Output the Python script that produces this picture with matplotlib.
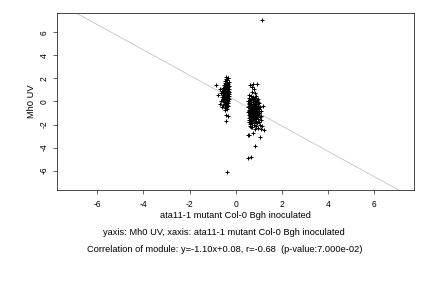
import matplotlib
matplotlib.use("Agg")
import matplotlib.pyplot as plt

plt.rcParams['font.family'] = ['Liberation Sans', 'DejaVu Sans']

# Cluster 1 (left group)
c1x = [-0.40,-0.35,-0.42,-0.32,-0.38,-0.45,-0.30,-0.36,-0.48,-0.40,-0.33,-0.44,-0.52,-0.37,-0.29,-0.85,
       -0.41,-0.47,-0.34,-0.55,-0.39,-0.30,-0.45,-0.70,-0.36,-0.50,-0.42,-0.33,-0.58,-0.38,-0.46,-0.28,
       -0.53,-0.40,-0.35,-0.62,-0.44,-0.31,-0.49,-0.37,-0.75,-0.42,-0.55,-0.34,-0.47,-0.39,-0.29,-0.60,
       -0.44,-0.36,-0.51,-0.41,-0.33,-0.48,-0.38,-0.56,-0.43,-0.31,-0.46,-0.36,-0.53,-0.40,-0.65,-0.34,
       -0.45,-0.38,-0.50,-0.42,-0.32,-0.70,-0.47,-0.37,-0.55,-0.43,-0.33,-0.58,-0.40,-0.48,-0.36,-0.45,
       -0.42,-0.32,-0.40,-0.38,-0.39,-0.43,-0.35,-0.41,-0.37,-0.44,-0.34,-0.46,-0.39,-0.42,-0.36,-0.48]
c1y = [2.15,2.05,1.95,2.00,1.85,1.75,1.70,1.65,1.60,1.55,1.50,1.45,1.40,1.38,1.35,1.40,
       1.30,1.25,1.22,1.20,1.15,1.12,1.08,1.05,1.02,1.00,0.95,0.92,0.90,0.88,0.85,0.82,
       0.80,0.78,0.75,0.72,0.70,0.68,0.65,0.62,0.60,0.58,0.55,0.52,0.50,0.48,0.45,0.42,
       0.40,0.38,0.35,0.32,0.30,0.27,0.25,0.22,0.20,0.18,0.15,0.12,0.10,0.08,0.05,0.03,
       0.00,-0.05,-0.08,-0.12,-0.15,-0.20,-0.22,-0.28,-0.30,-0.35,-0.40,-0.50,-0.52,-0.60,-0.65,-0.72,
       -1.20,-1.30,-1.70,-6.10,1.90,1.48,1.10,0.72,0.57,0.35,0.90,0.15,0.43,1.25,0.62,0.98]

# Cluster 2 (right group)
c2x = [0.62,0.75,0.93,0.70,0.78,0.72,0.82,0.60,0.88,0.67,0.98,0.75,0.58,0.83,0.70,0.92,
       0.63,0.78,0.55,0.87,0.68,0.95,0.74,0.60,0.82,1.02,0.66,0.90,0.56,0.77,0.85,1.20,
       0.62,0.72,0.96,0.58,0.80,0.68,0.88,1.05,0.54,0.75,0.93,0.64,0.83,0.70,1.00,0.57,
       0.79,0.90,0.66,0.74,1.08,0.60,0.86,0.71,0.95,0.55,0.81,0.67,1.02,0.76,0.89,0.61,
       0.72,0.98,0.56,0.84,0.69,1.10,0.78,0.92,0.63,0.74,1.04,0.58,0.87,0.70,0.96,0.66,
       0.80,1.12,0.60,0.76,0.90,0.68,1.00,0.57,0.84,0.72,0.94,0.64,0.79,1.06,0.61,0.88,
       0.73,1.15,0.68,0.97,1.10,1.25,0.82,0.55,0.60,0.75,1.05,0.85,0.55,0.65,1.15,
       0.65,0.73,0.81,0.89,0.69,0.77,0.85,0.93,0.63,0.71,0.79,0.87,0.67,0.75,0.83,0.91,
       0.64,0.72,0.80,0.88,0.70,0.78,0.86,0.94,0.66,0.74,0.82,0.90,0.62,0.76,0.84,0.97]
c2y = [1.45,1.55,1.50,1.30,1.10,0.80,0.70,0.55,0.50,0.45,0.20,0.35,0.30,0.28,0.22,0.15,
       0.12,0.10,0.05,0.02,-0.02,-0.05,-0.08,-0.10,-0.12,-0.15,-0.18,-0.20,-0.22,-0.25,-0.28,-0.35,
       -0.30,-0.33,-0.36,-0.40,-0.42,-0.45,-0.48,-0.50,-0.52,-0.55,-0.58,-0.60,-0.62,-0.65,-0.68,-0.70,
       -0.72,-0.75,-0.78,-0.80,-0.82,-0.85,-0.88,-0.90,-0.92,-0.95,-0.98,-1.00,-1.02,-1.05,-1.08,-1.10,
       -1.12,-1.15,-1.18,-1.20,-1.22,-1.25,-1.28,-1.30,-1.32,-1.35,-1.38,-1.40,-1.42,-1.45,-1.48,-1.52,
       -1.55,-1.58,-1.62,-1.65,-1.68,-1.72,-1.75,-1.80,-1.82,-1.88,-1.90,-1.95,-2.00,-2.05,-2.10,-2.12,
       -2.18,-2.10,-2.25,-2.28,-2.40,-2.50,-2.35,-2.90,-2.95,-2.70,-3.05,-3.90,-4.95,-4.80,7.10,
       -0.40,-0.55,-0.70,-0.85,-1.00,-1.15,-0.30,-0.95,-1.25,-0.60,-0.75,-1.05,-0.45,-0.90,-1.35,-0.65,
       -0.80,-1.10,-0.50,-1.20,-0.35,-0.70,-1.40,-0.85,-1.00,-0.25,-1.30,-0.60,-0.90,-1.50,-0.15,-1.05]

slope = -1.10
intercept = 0.08

fig = plt.figure(figsize=(6, 4), dpi=72)
ax = fig.add_axes([0.133, 0.340, 0.825, 0.616])

ax.axline((0, intercept), slope=slope, color='#c8c8c8', linewidth=0.9, zorder=1)
ax.scatter(c1x + c2x, c1y + c2y, marker='+', s=24, color='black', linewidths=1.0, zorder=2)

ax.set_xlim(-7.73, 7.73)
ax.set_ylim(-7.7, 7.72)
ticks = [-6, -4, -2, 0, 2, 4, 6]
ax.set_xticks(ticks)
ax.set_yticks(ticks)
ax.set_xticklabels([str(t) for t in ticks], fontsize=8.5)
ax.set_yticklabels([str(t) for t in ticks], fontsize=8.5, rotation=90, va='center')
ax.tick_params(direction='out', length=4, width=0.6)
ax.tick_params(axis='x', pad=6)
ax.tick_params(axis='y', pad=5)
for s in ax.spines.values():
    s.set_linewidth(0.8)
    s.set_color('#222222')

ax.set_xlabel('ata11-1 mutant Col-0 Bgh inoculated', fontsize=9.2, labelpad=2)
ax.set_ylabel('Mh0 UV', fontsize=9.2, labelpad=3)

fig.text(0.519, 0.194, 'yaxis: Mh0 UV, xaxis: ata11-1 mutant Col-0 Bgh inoculated',
         ha='center', va='center', fontsize=9.2)
fig.text(0.519, 0.135, 'Correlation of module: y=-1.10x+0.08, r=-0.68  (p-value:7.000e-02)',
         ha='center', va='center', fontsize=9.2)

fig.savefig('out.png', dpi=72)
